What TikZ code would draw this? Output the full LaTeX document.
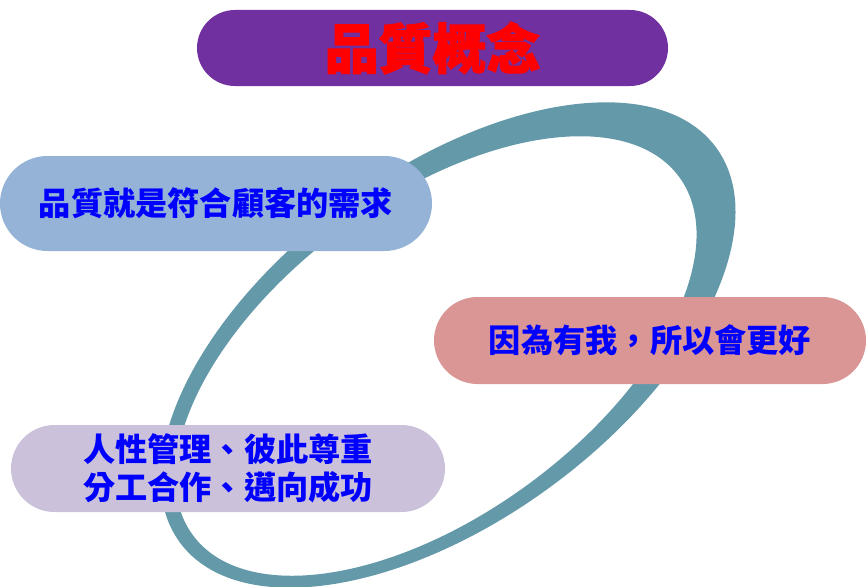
\documentclass[tikz,border=0pt]{standalone}
\usepackage{fontspec}
\usepackage{xcolor}
\usepackage{tikz}
\usetikzlibrary{positioning, shapes.misc}
\newfontfamily\cjk{Noto Sans CJK TC}
\newfontfamily\titlefont{Noto Sans CJK TC}[BoldFeatures={FakeBold=2}]
\definecolor{titlepurple}{HTML}{7030A0}
\definecolor{ringteal}{HTML}{6499AA}
\definecolor{needblue}{HTML}{95B3D7}
\definecolor{betterpink}{HTML}{D99694}
\definecolor{peoplelilac}{HTML}{CCC1DA}

\begin{document}
\begin{tikzpicture}[font=\cjk\bfseries,
    pill/.style={rounded rectangle, inner sep=0pt, text=blue, align=center,
        font=\cjk\bfseries\fontsize{27.5}{32}\selectfont}]
    \useasboundingbox (0,0) rectangle (25.98,-17.61);

    % the ring behind everything
    \begin{scope}[shift={(13.44,-10.35)}, rotate=36.4]
        \fill[ringteal, even odd rule] (0,0) ellipse (9.99 and 5.25)
            (-0.486,-0.052) ellipse (9.06 and 4.74);
    \end{scope}

    \node[pill, fill=titlepurple, minimum width=14.13cm, minimum height=2.28cm,
        text=red, font=\titlefont\bfseries\fontsize{46}{50}\selectfont] (title) at (12.975,-1.44) {品質概念};

    \node[pill, fill=needblue, minimum width=12.96cm, minimum height=2.85cm] (need) at (6.48,-6.105) {品質就是符合顧客的需求};

    \node[pill, fill=betterpink, minimum width=12.96cm, minimum height=2.61cm] (better) at (19.5,-10.215) {因為有我，所以會更好};

    \node[pill, fill=peoplelilac, minimum width=13.02cm, minimum height=2.61cm] (people) at (6.84,-14.055) {人性管理、彼此尊重\\分工合作、邁向成功};
\end{tikzpicture}
\end{document}
